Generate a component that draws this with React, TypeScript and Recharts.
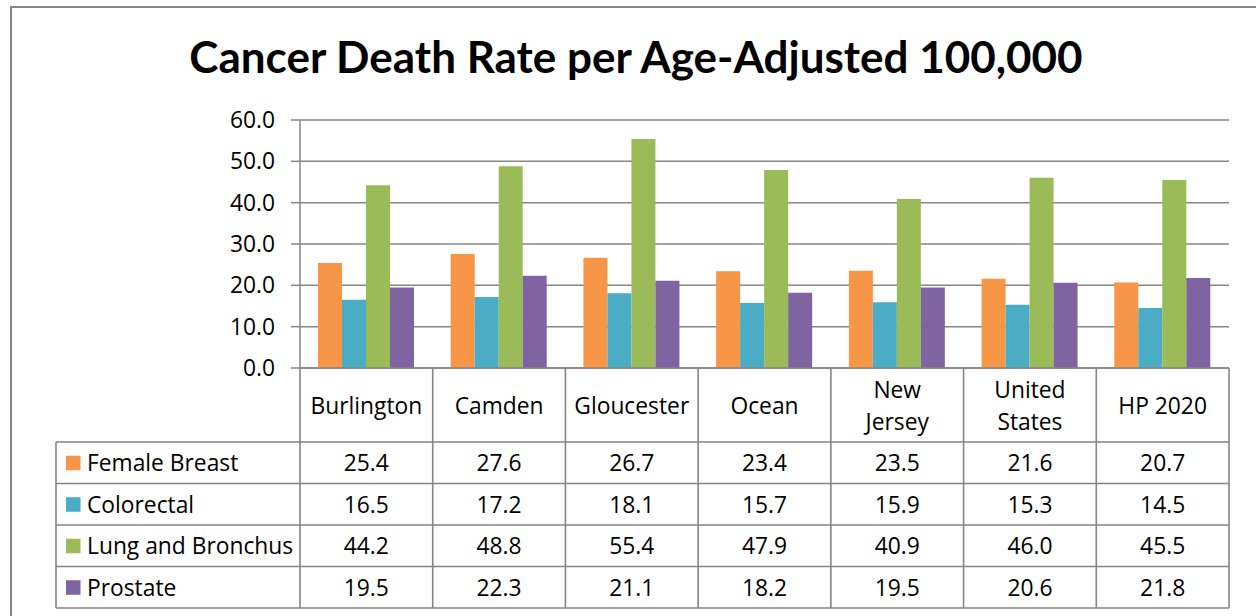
import React from "react";
import { BarChart, Bar, XAxis, YAxis, CartesianGrid } from "recharts";

const categories = ["Burlington", "Camden", "Gloucester", "Ocean", "New Jersey", "United States", "HP 2020"];
const categoryLines = [["Burlington"], ["Camden"], ["Gloucester"], ["Ocean"], ["New", "Jersey"], ["United", "States"], ["HP 2020"]];
const femaleBreast = [25.4, 27.6, 26.7, 23.4, 23.5, 21.6, 20.7];
const colorectal = [16.5, 17.2, 18.1, 15.7, 15.9, 15.3, 14.5];
const lungBronchus = [44.2, 48.8, 55.4, 47.9, 40.9, 46.0, 45.5];
const prostate = [19.5, 22.3, 21.1, 18.2, 19.5, 20.6, 21.8];
const yTicks = [0, 10, 20, 30, 40, 50, 60];

const seriesNames = ["Female Breast", "Colorectal", "Lung and Bronchus", "Prostate"];
const seriesKeys = ["fb", "cr", "lb", "pr"];
const seriesValues = [femaleBreast, colorectal, lungBronchus, prostate];
const colors = ["#F79646", "#4BACC6", "#9BBB59", "#8064A2"];

const data = categories.map((c, i) => ({
  name: c,
  fb: femaleBreast[i],
  cr: colorectal[i],
  lb: lungBronchus[i],
  pr: prostate[i],
}));

const FONT = "Lato, 'Open Sans', sans-serif";
const TFONT = "'Open Sans', Lato, sans-serif";
const FS = 22.8;
const LINE = "#858585";
const HEADER_H = 74;
const ROW_H = 41.5;
const LEGEND_LEFT = 56;

function TableTick(props: any) {
  const { x, y, payload, index } = props;
  const half = payload && payload.offset ? payload.offset : 66.35;
  const left = x - half;
  const right = x + half;
  const n = categories.length;
  const bottom = y + HEADER_H + ROW_H * seriesNames.length;
  const lines = categoryLines[index] || [String(payload.value)];
  const headerMid = y + HEADER_H / 2;
  const els: any[] = [];

  els.push(<line key="vl" x1={left} y1={y} x2={left} y2={bottom} stroke={LINE} strokeWidth={1.6} />);
  if (index === n - 1) {
    els.push(<line key="vr" x1={right} y1={y} x2={right} y2={bottom} stroke={LINE} strokeWidth={1.6} />);
  }
  lines.forEach((t, li) => {
    const off = (li - (lines.length - 1) / 2) * 32;
    els.push(
      <text key={"h" + li} x={x} y={headerMid + off} textAnchor="middle" dominantBaseline="central" fontSize={FS} fontFamily={TFONT} fill="#000">
        {t}
      </text>
    );
  });
  seriesValues.forEach((vals, r) => {
    const cy = y + HEADER_H + ROW_H * r + ROW_H / 2;
    els.push(
      <text key={"v" + r} x={x} y={cy} textAnchor="middle" dominantBaseline="central" fontSize={FS} fontFamily={TFONT} fill="#000">
        {vals[index].toFixed(1)}
      </text>
    );
  });

  if (index === 0) {
    const tableRight = left + half * 2 * n;
    const top = y + HEADER_H;
    els.push(<line key="lv" x1={LEGEND_LEFT} y1={top} x2={LEGEND_LEFT} y2={bottom} stroke={LINE} strokeWidth={1.6} />);
    for (let r = 0; r <= seriesNames.length; r++) {
      const ly = top + ROW_H * r;
      els.push(<line key={"hl" + r} x1={LEGEND_LEFT} y1={ly} x2={tableRight} y2={ly} stroke={LINE} strokeWidth={1.6} />);
    }
    seriesNames.forEach((nm, r) => {
      const cy = top + ROW_H * r + ROW_H / 2;
      els.push(<rect key={"sq" + r} x={66} y={cy - 7} width={14.5} height={14.5} fill={colors[r]} />);
      els.push(
        <text key={"ln" + r} x={87} y={cy} dominantBaseline="central" fontSize={FS} fontFamily={TFONT} fill="#000">
          {nm}
        </text>
      );
    });
  }
  return <g>{els}</g>;
}

export default function App() {
  return (
    <div style={{ position: "absolute", left: 0, top: 0, width: 1256, height: 616, background: "#fff" }}>
      <BarChart
        width={1256}
        height={616}
        data={data}
        margin={{ top: 120, right: 27, left: 240, bottom: 8 }}
        barGap={0}
      >
        <CartesianGrid vertical={false} stroke="#868686" strokeWidth={1.5} />
        <YAxis
          width={60}
          domain={[0, 60]}
          ticks={yTicks}
          interval={0}
          tickFormatter={(v: number) => v.toFixed(1)}
          tickSize={9}
          tickMargin={16}
          axisLine={{ stroke: "#868686", strokeWidth: 1.5 }}
          tickLine={{ stroke: "#868686", strokeWidth: 1.5 }}
          tick={{ fill: "#000", fontSize: FS, fontFamily: TFONT }}
        />
        <XAxis
          dataKey="name"
          height={240}
          interval={0}
          tickSize={0}
          tickMargin={0}
          tickLine={false}
          axisLine={{ stroke: "#868686", strokeWidth: 1.5 }}
          tick={<TableTick />}
        />
        {seriesKeys.map((k, i) => (
          <Bar key={k} dataKey={k} name={seriesNames[i]} fill={colors[i]} barSize={24} isAnimationActive={false} />
        ))}
      </BarChart>
      <svg width={1256} height={616} style={{ position: "absolute", left: 0, top: 0, pointerEvents: "none" }}>
        <rect x={11} y={7} width={1260} height={620} fill="none" stroke="#868686" strokeWidth={2} />
        <text x={636} y={73} textAnchor="middle" fontSize={44} fontWeight={700} fontFamily={FONT} fill="#000">
          Cancer Death Rate per Age-Adjusted 100,000
        </text>
      </svg>
    </div>
  );
}
